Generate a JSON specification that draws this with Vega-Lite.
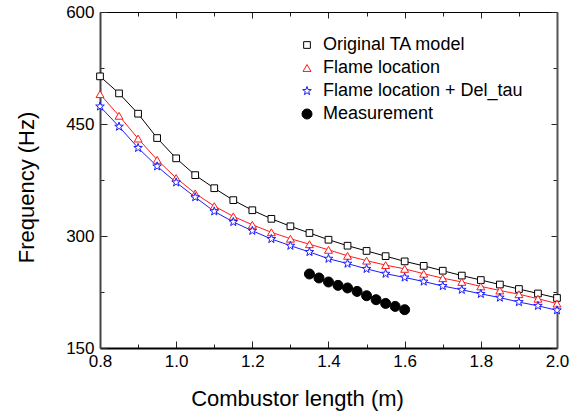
{
  "$schema": "https://vega.github.io/schema/vega-lite/v6.json",
  "width": 457,
  "height": 336,
  "autosize": "none",
  "padding": {"left": 100, "top": 12, "right": 20, "bottom": 66},
  "background": "white",
  "config": {
    "view": {"stroke": null},
    "font": "Liberation Sans",
    "axis": {"grid": false, "labelFont": "Liberation Sans", "titleFont": "Liberation Sans", "labelColor": "black", "titleColor": "black", "titleFontWeight": "normal", "tickColor": "#222", "tickWidth": 1},
    "legend": {"orient": "none", "legendX": 198, "legendY": 24, "padding": 0, "labelFontSize": 18, "labelFont": "Liberation Sans", "labelColor": "black", "labelOffset": 7, "labelLimit": 400, "rowPadding": 5, "symbolStrokeWidth": 1}
  },
  "data": {"values": [
    {"s": "Original TA model", "x": 0.8, "f": 513.8},
    {"s": "Original TA model", "x": 0.85, "f": 491},
    {"s": "Original TA model", "x": 0.9, "f": 463.8},
    {"s": "Original TA model", "x": 0.95, "f": 431.2},
    {"s": "Original TA model", "x": 1.0, "f": 404},
    {"s": "Original TA model", "x": 1.05, "f": 381.5},
    {"s": "Original TA model", "x": 1.1, "f": 364},
    {"s": "Original TA model", "x": 1.15, "f": 348},
    {"s": "Original TA model", "x": 1.2, "f": 334.5},
    {"s": "Original TA model", "x": 1.25, "f": 323},
    {"s": "Original TA model", "x": 1.3, "f": 313},
    {"s": "Original TA model", "x": 1.35, "f": 304},
    {"s": "Original TA model", "x": 1.4, "f": 295},
    {"s": "Original TA model", "x": 1.45, "f": 287},
    {"s": "Original TA model", "x": 1.5, "f": 280},
    {"s": "Original TA model", "x": 1.55, "f": 273},
    {"s": "Original TA model", "x": 1.6, "f": 266},
    {"s": "Original TA model", "x": 1.65, "f": 260},
    {"s": "Original TA model", "x": 1.7, "f": 253.5},
    {"s": "Original TA model", "x": 1.75, "f": 247},
    {"s": "Original TA model", "x": 1.8, "f": 241},
    {"s": "Original TA model", "x": 1.85, "f": 235},
    {"s": "Original TA model", "x": 1.9, "f": 229},
    {"s": "Original TA model", "x": 1.95, "f": 223},
    {"s": "Original TA model", "x": 2.0, "f": 217},
    {"s": "Flame location", "x": 0.8, "f": 490},
    {"s": "Flame location", "x": 0.85, "f": 461},
    {"s": "Flame location", "x": 0.9, "f": 430.5},
    {"s": "Flame location", "x": 0.95, "f": 402},
    {"s": "Flame location", "x": 1.0, "f": 377.7},
    {"s": "Flame location", "x": 1.05, "f": 357},
    {"s": "Flame location", "x": 1.1, "f": 340},
    {"s": "Flame location", "x": 1.15, "f": 326.3},
    {"s": "Flame location", "x": 1.2, "f": 315},
    {"s": "Flame location", "x": 1.25, "f": 305},
    {"s": "Flame location", "x": 1.3, "f": 296.4},
    {"s": "Flame location", "x": 1.35, "f": 289},
    {"s": "Flame location", "x": 1.4, "f": 281.5},
    {"s": "Flame location", "x": 1.45, "f": 273.5},
    {"s": "Flame location", "x": 1.5, "f": 267},
    {"s": "Flame location", "x": 1.55, "f": 261},
    {"s": "Flame location", "x": 1.6, "f": 256},
    {"s": "Flame location", "x": 1.65, "f": 249.5},
    {"s": "Flame location", "x": 1.7, "f": 243.5},
    {"s": "Flame location", "x": 1.75, "f": 238.5},
    {"s": "Flame location", "x": 1.8, "f": 232.5},
    {"s": "Flame location", "x": 1.85, "f": 227},
    {"s": "Flame location", "x": 1.9, "f": 222},
    {"s": "Flame location", "x": 1.95, "f": 216},
    {"s": "Flame location", "x": 2.0, "f": 209.5},
    {"s": "Flame location + Del_tau", "x": 0.8, "f": 473.5},
    {"s": "Flame location + Del_tau", "x": 0.85, "f": 446.5},
    {"s": "Flame location + Del_tau", "x": 0.9, "f": 418},
    {"s": "Flame location + Del_tau", "x": 0.95, "f": 393.3},
    {"s": "Flame location + Del_tau", "x": 1.0, "f": 371.8},
    {"s": "Flame location + Del_tau", "x": 1.05, "f": 352},
    {"s": "Flame location + Del_tau", "x": 1.1, "f": 333},
    {"s": "Flame location + Del_tau", "x": 1.15, "f": 318.8},
    {"s": "Flame location + Del_tau", "x": 1.2, "f": 307},
    {"s": "Flame location + Del_tau", "x": 1.25, "f": 296},
    {"s": "Flame location + Del_tau", "x": 1.3, "f": 287},
    {"s": "Flame location + Del_tau", "x": 1.35, "f": 278.6},
    {"s": "Flame location + Del_tau", "x": 1.4, "f": 269.6},
    {"s": "Flame location + Del_tau", "x": 1.45, "f": 263},
    {"s": "Flame location + Del_tau", "x": 1.5, "f": 256},
    {"s": "Flame location + Del_tau", "x": 1.55, "f": 249.5},
    {"s": "Flame location + Del_tau", "x": 1.6, "f": 244.5},
    {"s": "Flame location + Del_tau", "x": 1.65, "f": 239},
    {"s": "Flame location + Del_tau", "x": 1.7, "f": 233},
    {"s": "Flame location + Del_tau", "x": 1.75, "f": 228},
    {"s": "Flame location + Del_tau", "x": 1.8, "f": 222.5},
    {"s": "Flame location + Del_tau", "x": 1.85, "f": 217.5},
    {"s": "Flame location + Del_tau", "x": 1.9, "f": 211.5},
    {"s": "Flame location + Del_tau", "x": 1.95, "f": 206.5},
    {"s": "Flame location + Del_tau", "x": 2.0, "f": 200.5},
    {"s": "Measurement", "x": 1.35, "f": 249.1},
    {"s": "Measurement", "x": 1.375, "f": 243.8},
    {"s": "Measurement", "x": 1.4, "f": 238.4},
    {"s": "Measurement", "x": 1.425, "f": 233.9},
    {"s": "Measurement", "x": 1.45, "f": 230.4},
    {"s": "Measurement", "x": 1.475, "f": 225.8},
    {"s": "Measurement", "x": 1.5, "f": 220},
    {"s": "Measurement", "x": 1.525, "f": 214.7},
    {"s": "Measurement", "x": 1.55, "f": 209.7},
    {"s": "Measurement", "x": 1.575, "f": 205.7},
    {"s": "Measurement", "x": 1.6, "f": 201.3}
  ]},
  "layer": [
    {
      "transform": [{"filter": "datum.s !== 'Measurement'"}],
      "mark": {"type": "line", "strokeWidth": 1},
      "encoding": {
        "x": {"field": "x", "type": "quantitative",
          "scale": {"domain": [0.8, 2.0], "nice": false, "zero": false},
          "axis": {"orient": "bottom", "values": [0.8, 0.9, 1.0, 1.1, 1.2, 1.3, 1.4, 1.5, 1.6, 1.7, 1.8, 1.9, 2.0],
            "format": ".1f", "labelExpr": "round(datum.value*10) % 2 == 0 ? datum.label : ''",
            "tickSize": {"condition": {"test": "round(datum.value*10) % 2 == 0", "value": -7}, "value": -4},
            "labelPadding": 12, "labelFontSize": 17, "labelAlign": "center",
            "domainColor": "black", "domainWidth": 2,
            "title": "Combustor length (m)", "titleFontSize": 22, "titleX": 197, "titleY": 57, "titleAlign": "center", "titleBaseline": "alphabetic"}},
        "y": {"field": "f", "type": "quantitative",
          "scale": {"domain": [150, 600], "nice": false, "zero": false},
          "axis": {"orient": "left", "values": [150, 225, 300, 375, 450, 525, 600],
            "labelExpr": "datum.value % 150 == 0 ? datum.label : ''",
            "tickSize": {"condition": {"test": "datum.value % 150 == 0", "value": -7}, "value": -4},
            "labelPadding": 13, "labelFontSize": 17, "labelBaseline": "middle",
            "domainColor": "#444", "domainWidth": 2,
            "title": "Frequency (Hz)", "titleFontSize": 22, "titleX": -74, "titleY": 175, "titleAlign": "center", "titleBaseline": "middle", "titleAngle": -90}},
        "stroke": {"field": "s", "type": "nominal", "title": null,
          "scale": {"domain": ["Original TA model", "Flame location", "Flame location + Del_tau", "Measurement"], "range": ["#000000", "#ff1a1a", "#1a1aff", "#000000"]}}
      }
    },
    {
      "mark": {"type": "point", "strokeWidth": 1, "opacity": 1, "filled": false},
      "encoding": {
        "x": {"field": "x", "type": "quantitative",
          "axis": {"orient": "top", "values": [0.8, 0.9, 1.0, 1.1, 1.2, 1.3, 1.4, 1.5, 1.6, 1.7, 1.8, 1.9, 2.0],
            "labels": false, "title": null,
            "tickSize": {"condition": {"test": "round(datum.value*10) % 2 == 0", "value": -6}, "value": -4},
            "domainColor": "black", "domainWidth": 1}},
        "y": {"field": "f", "type": "quantitative",
          "axis": {"orient": "right", "values": [150, 225, 300, 375, 450, 525, 600],
            "labels": false, "title": null,
            "tickSize": {"condition": {"test": "datum.value % 150 == 0", "value": -6}, "value": -4},
            "domainColor": "#555", "domainWidth": 2}},
        "shape": {"field": "s", "type": "nominal", "title": null,
          "scale": {"domain": ["Original TA model", "Flame location", "Flame location + Del_tau", "Measurement"],
            "range": ["square", "triangle-up", "M0,-1L0.235,-0.324L0.951,-0.309L0.38,0.124L0.588,0.809L0,0.4L-0.588,0.809L-0.38,0.124L-0.951,-0.309L-0.235,-0.324Z", "circle"]},
          "legend": {"title": null}},
        "stroke": {"field": "s", "type": "nominal", "title": null},
        "fill": {"field": "s", "type": "nominal", "title": null,
          "scale": {"domain": ["Original TA model", "Flame location", "Flame location + Del_tau", "Measurement"], "range": ["#ffffff", "#ffffff", "#ffffff", "#000000"]}},
        "size": {"field": "s", "type": "nominal", "title": null,
          "scale": {"domain": ["Original TA model", "Flame location", "Flame location + Del_tau", "Measurement"], "range": [45, 100, 85, 110]}}
      }
    }
  ],
  "resolve": {"axis": {"x": "independent", "y": "independent"}}
}
